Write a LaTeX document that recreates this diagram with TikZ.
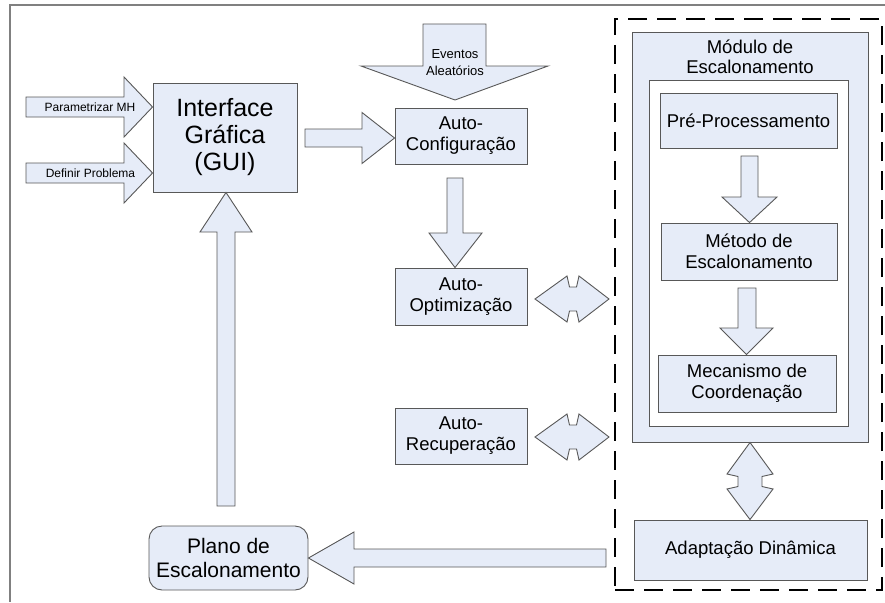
\documentclass[tikz,border=0pt]{standalone}
\usepackage{fontspec}
\setmainfont{Liberation Sans}
\definecolor{boxfill}{RGB}{230,236,248}
\definecolor{edge}{RGB}{88,88,88}
\definecolor{framegray}{RGB}{128,128,128}
\tikzset{
  box/.style={draw=edge, fill=boxfill, line width=0.9pt, inner sep=0pt,
    align=center, font=\fontsize{18.5}{21}\selectfont},
  blockarrow/.style={draw=edge, fill=boxfill, line width=0.9pt, line join=miter},
  smalltext/.style={inner sep=0pt, align=center, font=\fontsize{12}{14}\selectfont},
}
\begin{document}
\begin{tikzpicture}[x=1pt, y=-1pt]
\useasboundingbox (0,0) rectangle (885,602);

% outer frame
\draw[framegray, line width=1.5pt] (885,5) -- (10,5) -- (10,602);

% scheduling subsystem (dashed)
\node[draw=black, line width=2.6pt, dash pattern=on 19pt off 10pt,
      minimum width=267pt, minimum height=571pt, inner sep=0pt] (sistema) at (748.5,304.5) {};

% scheduling module
\node[box, minimum width=236pt, minimum height=410pt] (modulo) at (750,237) {};
\node[inner sep=0pt, align=center, font=\fontsize{18.5}{20.5}\selectfont] (titulo) at (750,57) {Módulo de\\Escalonamento};
\node[draw=edge, fill=white, line width=0.9pt, inner sep=0pt,
      minimum width=199pt, minimum height=346pt] (nucleo) at (748.5,253) {};
\node[box, minimum width=177pt, minimum height=55pt] (pre) at (748.5,120.5) {Pré-Processamento};
\node[box, minimum width=176pt, minimum height=57pt] (metodo) at (749,251.5) {Método de\\Escalonamento};
\node[box, minimum width=178pt, minimum height=57pt] (mecanismo) at (747,383.5) {Mecanismo de\\Coordenação};
\node[box, minimum width=233pt, minimum height=60pt] (adapt) at (750.5,550) {Adaptação Dinâmica};

% left side boxes
\node[box, minimum width=144pt, minimum height=109pt, font=\fontsize{25}{27}\selectfont] (gui) at (225,137.5) {Interface\\Gráfica\\(GUI)};
\node[box, minimum width=132pt, minimum height=56pt] (conf) at (461,136) {Auto-\\Configuração};
\node[box, minimum width=132pt, minimum height=57pt] (opt) at (461,296.5) {Auto-\\Optimização};
\node[box, minimum width=132pt, minimum height=56pt] (rec) at (461,436) {Auto-\\Recuperação};
\node[box, rounded corners=13pt, minimum width=159pt, minimum height=64pt,
      font=\fontsize{21}{24}\selectfont] (plano) at (228.5,558) {Plano de\\Escalonamento};

% input arrows into the GUI
\draw[blockarrow] (26,97) -- (124,97) -- (124,77) -- (gui.west |- 0,107) -- (124,137) -- (124,117) -- (26,117) -- cycle;
\node[smalltext] (parmh) at (90,107) {Parametrizar MH};
\draw[blockarrow] (26,163) -- (124,163) -- (124,143) -- (gui.west |- 0,173) -- (124,203) -- (124,183) -- (26,183) -- cycle;
\node[smalltext] (defprob) at (90.5,173) {Definir Problema};

% GUI -> auto-configuration
\draw[blockarrow] (305,129) -- (362,129) -- (362,112.5) -- (conf.west |- 0,138) -- (362,163.5) -- (362,147) -- (305,147) -- cycle;

% random events
\draw[blockarrow] (423,24) -- (486,24) -- (486,66) -- (548,66) -- (455,100) -- (361,66) -- (423,66) -- cycle;
\node[inner sep=0pt, align=center, font=\fontsize{13}{17}\selectfont] (eventos) at (455,63) {Eventos\\Aleatórios};

% auto-configuration -> auto-optimization
\draw[blockarrow] (447,178) -- (463,178) -- (463,233) -- (482,233) -- (opt.north -| 455,0) -- (429,233) -- (447,233) -- cycle;

% two-way links with the subsystem
\draw[blockarrow] (535,299) -- (567,276) -- (569.5,287) -- (576.5,287) -- (579,276) -- (609,299)
  -- (579,322) -- (576.5,311) -- (569.5,311) -- (567,322) -- cycle;
\draw[blockarrow] (535,437) -- (567,414) -- (569.5,425) -- (576.5,425) -- (579,414) -- (609,437)
  -- (579,460) -- (576.5,449) -- (569.5,449) -- (567,460) -- cycle;

% module <-> dynamic adaptation
\draw[blockarrow] (modulo.south) -- (773,474) -- (762,476.5) -- (762,486.5) -- (773,489) -- (adapt.north -| 750,0)
  -- (727,489) -- (738,486.5) -- (738,476.5) -- (727,474) -- cycle;

% inner flow of the module
\draw[blockarrow] (741,156) -- (758,156) -- (758,197) -- (777,197) -- (metodo.north -| 749.5,0) -- (722,197) -- (741,197) -- cycle;
\draw[blockarrow] (738,288) -- (756,288) -- (756,328) -- (773,328) -- (mecanismo.north -| 746.5,0) -- (720,328) -- (738,328) -- cycle;

% dynamic adaptation -> schedule plan
\draw[blockarrow] (606,549) -- (354,549) -- (354,532) -- (plano.east |- 0,558) -- (354,584) -- (354,567) -- (606,567) -- cycle;

% schedule plan -> GUI
\draw[blockarrow] (217,506) -- (217,232) -- (200,232) -- (gui.south -| 226,0) -- (252,232) -- (235,232) -- (235,506) -- cycle;
\end{tikzpicture}
\end{document}
